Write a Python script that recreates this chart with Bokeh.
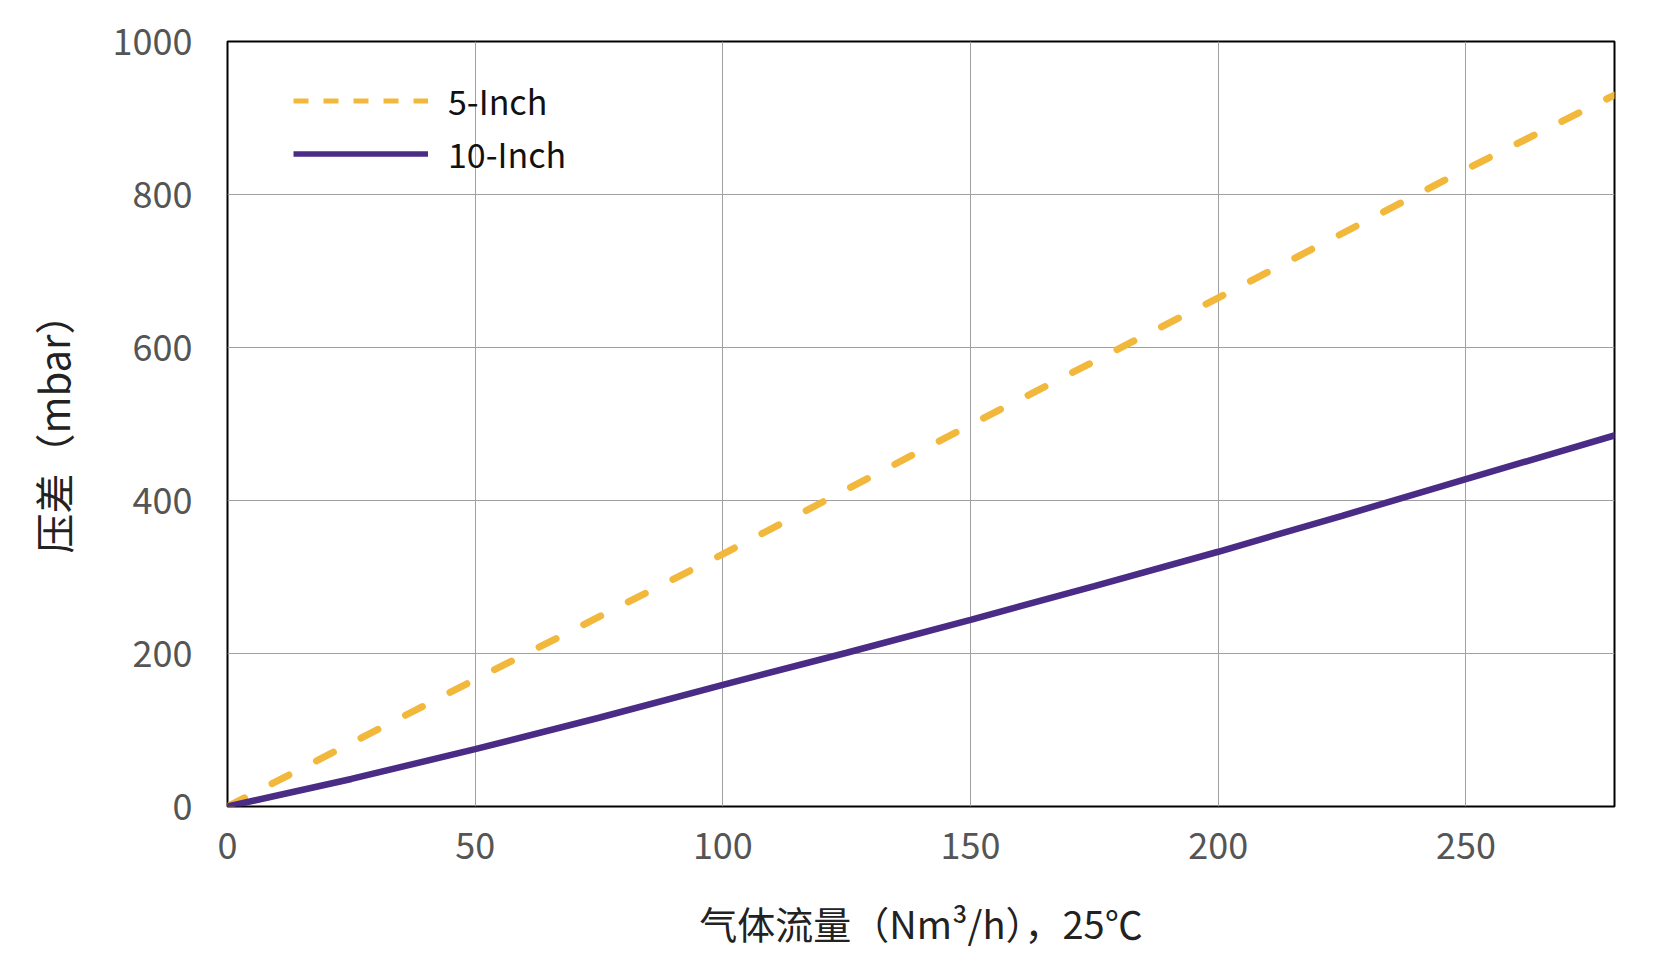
from bokeh.plotting import figure
from bokeh.models import Range1d, Legend, LegendItem, FixedTicker
from bokeh.embed import file_html
from bokeh.resources import INLINE

# flow (Nm3/h) vs pressure drop (mbar)
flow_5 = [0, 50, 100, 150, 200, 250, 280]
dp_5 = [0, 166, 330, 499, 665, 833, 930]

flow_10 = [0, 25, 50, 75, 100, 125, 150, 175, 200, 225, 250, 280]
dp_10 = [0, 36, 75, 116, 159, 201, 244, 288, 333, 380, 428, 485]

x_ticks = [0, 50, 100, 150, 200, 250]
y_ticks = [0, 200, 400, 600, 800, 1000]

YELLOW = "#F2B83C"
PURPLE = "#4A2C86"
FONT = "Noto Sans CJK SC"
NAN = float("nan")

p = figure(width=1640, height=952, output_backend="svg", toolbar_location=None,
           x_range=Range1d(0, 280), y_range=Range1d(0, 1000),
           min_border_left=227, min_border_right=26,
           min_border_top=41, min_border_bottom=145)

p.outline_line_color = "black"
p.outline_line_width = 2

p.xaxis.ticker = FixedTicker(ticks=x_ticks)
p.yaxis.ticker = FixedTicker(ticks=y_ticks)
for ax in (p.xaxis[0], p.yaxis[0]):
    ax.axis_line_color = None
    ax.major_tick_line_color = None
    ax.minor_tick_line_color = None
    ax.major_label_text_font = FONT
    ax.major_label_text_font_size = "36px"
    ax.major_label_text_color = "#555555"
    ax.axis_label_text_font = FONT
    ax.axis_label_text_font_style = "normal"
    ax.axis_label_text_color = "#222222"

p.xaxis.axis_label = "气体流量（Nm³/h），25℃"
p.yaxis.axis_label = "压差（mbar）"
p.xaxis.axis_label_text_font_size = "38px"
p.yaxis.axis_label_text_font_size = "40px"
p.xaxis.major_label_standoff = 20
p.xaxis.axis_label_standoff = 33
p.yaxis.major_label_standoff = 29
p.yaxis.axis_label_standoff = 28

p.grid.grid_line_color = "#a0a0a0"
p.grid.grid_line_width = 1

p.line(flow_5, dp_5, line_color=YELLOW, line_width=7, line_dash="19 31", line_cap="round")
p.line(flow_10, dp_10, line_color=PURPLE, line_width=6.5, line_cap="round")

# legend swatches only (nothing drawn in the frame)
key_5 = p.line([NAN], [NAN], line_color=YELLOW, line_width=5, line_dash="15 15")
key_10 = p.line([NAN], [NAN], line_color=PURPLE, line_width=5.5)

legend = Legend(items=[LegendItem(label="5-Inch", renderers=[key_5]),
                       LegendItem(label="10-Inch", renderers=[key_10])],
                location=(66, 628))
legend.border_line_color = None
legend.background_fill_alpha = 0
legend.label_text_font = FONT
legend.label_text_font_size = "34px"
legend.label_text_color = "#111111"
legend.glyph_width = 135
legend.glyph_height = 41
legend.label_height = 41
legend.label_standoff = 20
legend.spacing = 4
legend.padding = 10
legend.margin = 0
p.add_layout(legend)

open("out.html", "w").write(file_html(p, INLINE))
